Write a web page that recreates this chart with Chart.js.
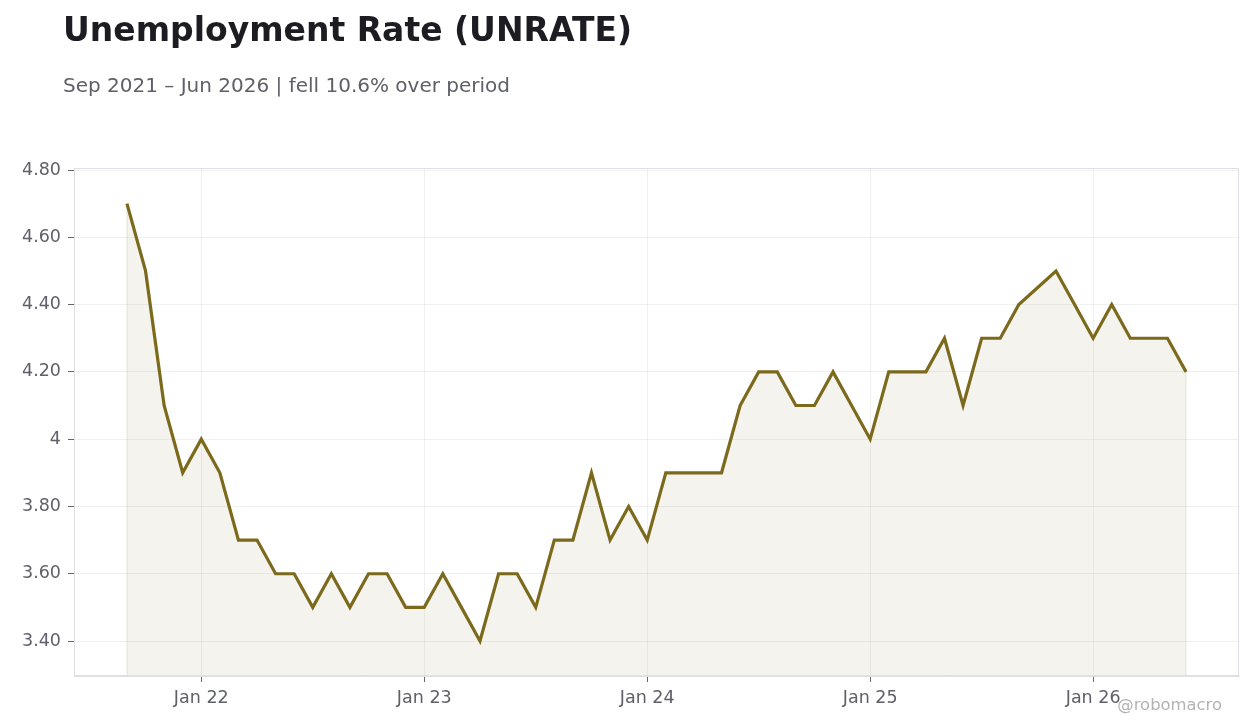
<!DOCTYPE html>
<html>
<head>
<meta charset="utf-8">
<script src="https://cdn.jsdelivr.net/npm/chart.js@4.4.1/dist/chart.umd.min.js"></script>
<style>
  html, body { margin: 0; padding: 0; background: #fff; }
  body { width: 1260px; height: 728px; position: relative; overflow: hidden; font-family: "DejaVu Sans", sans-serif; }
  #title { position: absolute; left: 63px; top: 10px; font-size: 33px; font-weight: bold; color: #1c1c22; line-height: 40px; }
  #subtitle { position: absolute; left: 63px; top: 72px; font-size: 20px; color: #5f6068; line-height: 26px; }
  #credit { position: absolute; right: 38px; top: 695px; font-size: 16.4px; color: #b3b3b3; line-height: 20px; }
  #wrap { position: absolute; left: 0; top: 0; width: 1260px; height: 728px; }
</style>
</head>
<body>
<div id="wrap"><canvas id="chart"></canvas></div>
<div id="title">Unemployment Rate (UNRATE)</div>
<div id="subtitle">Sep 2021 – Jun 2026 | fell 10.6% over period</div>
<div id="credit">@robomacro</div>
<script>
// monthly observations, Sep 2021 .. Jun 2026 (Oct 2025 not published)
const months = [
  "Sep 21", "Oct 21", "Nov 21", "Dec 21",
  "Jan 22", "Feb 22", "Mar 22", "Apr 22", "May 22", "Jun 22", "Jul 22", "Aug 22", "Sep 22", "Oct 22", "Nov 22", "Dec 22",
  "Jan 23", "Feb 23", "Mar 23", "Apr 23", "May 23", "Jun 23", "Jul 23", "Aug 23", "Sep 23", "Oct 23", "Nov 23", "Dec 23",
  "Jan 24", "Feb 24", "Mar 24", "Apr 24", "May 24", "Jun 24", "Jul 24", "Aug 24", "Sep 24", "Oct 24", "Nov 24", "Dec 24",
  "Jan 25", "Feb 25", "Mar 25", "Apr 25", "May 25", "Jun 25", "Jul 25", "Aug 25", "Sep 25", "Oct 25", "Nov 25", "Dec 25",
  "Jan 26", "Feb 26", "Mar 26", "Apr 26", "May 26", "Jun 26"
];
const unrate = [
  4.7, 4.5, 4.1, 3.9,
  4.0, 3.9, 3.7, 3.7, 3.6, 3.6, 3.5, 3.6, 3.5, 3.6, 3.6, 3.5,
  3.5, 3.6, 3.5, 3.4, 3.6, 3.6, 3.5, 3.7, 3.7, 3.9, 3.7, 3.8,
  3.7, 3.9, 3.9, 3.9, 3.9, 4.1, 4.2, 4.2, 4.1, 4.1, 4.2, 4.1,
  4.0, 4.2, 4.2, 4.2, 4.3, 4.1, 4.3, 4.3, 4.4, null, 4.5, 4.4,
  4.3, 4.4, 4.3, 4.3, 4.3, 4.2
];
const xTickLabels = ["Jan 22", "Jan 23", "Jan 24", "Jan 25", "Jan 26"];
const yTicks = [3.4, 3.6, 3.8, 4.0, 4.2, 4.4, 4.6, 4.8];

const points = unrate.map((v, i) => ({ x: i, y: v }));
const xTickPos = xTickLabels.map(l => months.indexOf(l));

const lineColor = "#7b6a1c";
const gridColor = "rgba(0,0,0,0.06)";
const textColor = "#5f6068";
const tickFont = { family: "DejaVu Sans", size: 17.5 };

// light frame round the plot area, plus faint edges at both ends of the fill
const frame = {
  id: "frame",
  afterDraw(chart) {
    const { ctx, chartArea: a, scales } = chart;
    ctx.save();
    ctx.strokeStyle = "rgba(123,106,28,0.08)";
    ctx.lineWidth = 2;
    [0, unrate.length - 1].forEach(i => {
      const px = scales.x.getPixelForValue(i);
      ctx.beginPath();
      ctx.moveTo(px, scales.y.getPixelForValue(unrate[i]));
      ctx.lineTo(px, a.bottom);
      ctx.stroke();
    });
    ctx.strokeStyle = "#dde0e4";
    ctx.lineWidth = 1;
    ctx.strokeRect(a.left + 0.5, a.top + 0.5, a.right - a.left - 1, a.bottom - a.top - 1);
    ctx.restore();
  }
};

const span = months.length - 1;
new Chart(document.getElementById("chart"), {
  type: "line",
  data: {
    datasets: [{
      data: points,
      borderColor: lineColor,
      borderWidth: 3.2,
      backgroundColor: "rgba(123,106,28,0.08)",
      fill: "start",
      pointRadius: 0,
      tension: 0,
      spanGaps: true
    }]
  },
  options: {
    responsive: true,
    maintainAspectRatio: false,
    animation: false,
    layout: { padding: { top: 168, right: 21, bottom: 0, left: 0 } },
    plugins: { legend: { display: false }, tooltip: { enabled: false } },
    scales: {
      x: {
        type: "linear",
        min: -span * 0.05,
        max: span * 1.05,
        afterBuildTicks: s => { s.ticks = xTickPos.map(v => ({ value: v })); },
        afterFit: s => { s.height = 52; },
        ticks: {
          autoSkip: false,
          maxRotation: 0,
          padding: 6,
          color: textColor,
          font: tickFont,
          callback: v => months[v]
        },
        grid: { color: gridColor, tickLength: 6, tickColor: "#666" },
        border: { color: "#dde0e4" }
      },
      y: {
        min: 3.296,
        max: 4.806,
        afterBuildTicks: s => { s.ticks = yTicks.map(v => ({ value: v })); },
        afterFit: s => { s.width = 74; },
        ticks: {
          padding: 7,
          color: textColor,
          font: tickFont,
          callback: v => Number.isInteger(Math.round(v * 100) / 100) ? String(Math.round(v)) : v.toFixed(2)
        },
        grid: { color: gridColor, tickLength: 6, tickColor: "#666" },
        border: { color: "#dde0e4" }
      }
    }
  },
  plugins: [frame]
});
</script>
</body>
</html>
